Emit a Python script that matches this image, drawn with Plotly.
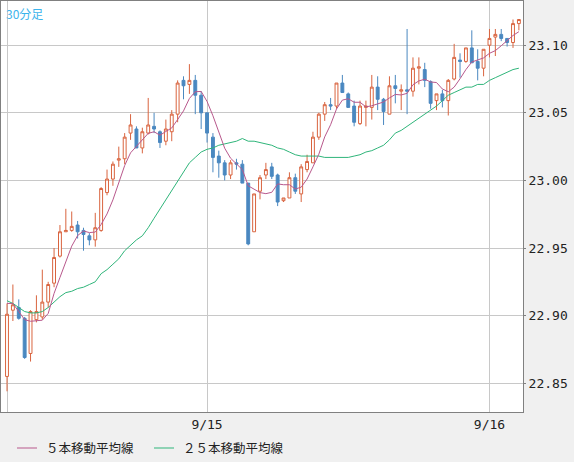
import plotly.graph_objects as go

idx = list(range(88))
opens = [22.855,22.904,22.906,22.898,22.872,22.897,22.899,22.910,22.924,22.944,
 22.962,22.963,22.967,22.963,22.959,22.956,22.963,22.991,23.001,23.015,
 23.016,23.035,23.038,23.024,23.035,23.040,23.036,23.029,23.036,23.049,
 23.074,23.071,23.074,23.063,23.050,23.032,23.018,23.013,23.004,23.013,
 23.012,22.998,22.962,22.992,23.004,23.010,23.004,22.985,22.987,23.002,
 22.990,23.008,23.013,23.032,23.049,23.056,23.055,23.072,23.064,23.055,
 23.042,23.054,23.054,23.069,23.060,23.049,23.070,23.066,23.067,23.066,
 23.083,23.082,23.073,23.059,23.064,23.059,23.075,23.089,23.088,23.098,
 23.088,23.083,23.100,23.106,23.108,23.105,23.102,23.116]
closes = [22.901,22.908,22.898,22.869,22.903,22.903,22.910,22.923,22.943,22.962,
 22.963,22.966,22.962,22.960,22.956,22.965,22.994,23.001,23.012,23.016,
 23.032,23.041,23.024,23.036,23.041,23.038,23.028,23.038,23.049,23.072,
 23.070,23.074,23.063,23.050,23.035,23.017,23.013,23.004,23.013,23.012,
 22.998,22.953,22.990,23.002,23.008,23.003,22.984,22.987,23.002,22.992,
 23.010,23.014,23.032,23.049,23.056,23.055,23.072,23.065,23.054,23.043,
 23.055,23.055,23.069,23.060,23.051,23.070,23.068,23.067,23.066,23.083,
 23.084,23.074,23.057,23.064,23.059,23.074,23.091,23.088,23.098,23.087,
 23.083,23.097,23.105,23.108,23.105,23.102,23.116,23.119]
highs = [22.909,22.923,22.912,22.899,22.904,22.915,22.934,22.925,22.950,22.967,
 22.979,22.977,22.970,22.965,22.961,22.976,22.995,23.008,23.014,23.025,
 23.035,23.049,23.040,23.039,23.061,23.050,23.037,23.045,23.052,23.074,
 23.077,23.086,23.078,23.066,23.050,23.035,23.022,23.015,23.015,23.016,
 23.015,22.998,22.990,23.004,23.013,23.013,23.005,22.987,23.006,23.005,
 23.012,23.019,23.036,23.050,23.058,23.061,23.072,23.078,23.065,23.059,
 23.059,23.059,23.078,23.077,23.061,23.077,23.078,23.071,23.112,23.091,
 23.091,23.087,23.074,23.064,23.067,23.075,23.101,23.094,23.098,23.111,
 23.097,23.097,23.112,23.112,23.112,23.105,23.119,23.119]
lows = [22.844,22.896,22.897,22.868,22.866,22.895,22.897,22.906,22.921,22.943,
 22.962,22.962,22.957,22.948,22.952,22.951,22.962,22.989,22.996,23.010,
 23.012,23.030,23.024,23.020,23.034,23.035,23.024,23.026,23.029,23.043,
 23.060,23.064,23.049,23.038,23.028,23.006,23.002,23.000,23.001,23.008,
 22.998,22.952,22.962,22.986,23.001,23.001,22.981,22.984,22.987,22.990,
 22.984,23.006,23.013,23.030,23.044,23.052,23.053,23.065,23.054,23.040,
 23.041,23.040,23.045,23.052,23.041,23.049,23.057,23.052,23.049,23.062,
 23.071,23.069,23.053,23.052,23.054,23.048,23.074,23.076,23.087,23.087,
 23.074,23.077,23.091,23.092,23.103,23.099,23.098,23.111]
ma5_head = [22.909, 22.909, 22.903, 22.897]
ma25 = [22.911,22.909,22.906,22.903,22.902,22.902,22.903,22.906,22.910,22.914,
 22.917,22.918,22.920,22.921,22.923,22.925,22.931,22.934,22.938,22.942,
 22.948,22.952,22.956,22.959,22.965,22.972,22.979,22.986,22.993,23.000,
 23.007,23.013,23.017,23.021,23.023,23.024,23.026,23.027,23.028,23.029,
 23.031,23.029,23.029,23.028,23.027,23.026,23.024,23.023,23.021,23.019,
 23.018,23.018,23.018,23.018,23.017,23.017,23.017,23.017,23.017,23.018,
 23.019,23.021,23.022,23.024,23.026,23.030,23.035,23.037,23.040,23.043,
 23.046,23.049,23.052,23.055,23.059,23.063,23.065,23.067,23.069,23.069,
 23.071,23.071,23.074,23.076,23.078,23.080,23.082,23.083]
date_ticks = [0, 34, 82]
date_labels = ["", "9/15", "9/16"]
price_ticks = [22.85, 22.90, 22.95, 23.00, 23.05, 23.10]

ma5 = ma5_head + [sum(closes[i-4:i+1]) / 5 for i in range(4, len(closes))]

UP = "#d9643f"; DOWN = "#4a88c0"; C5 = "#b8588c"; C25 = "#2fb57a"
fig = go.Figure()
fig.add_trace(go.Candlestick(x=idx, open=opens, high=highs, low=lows, close=closes,
    increasing=dict(line=dict(color=UP, width=1), fillcolor="white"),
    decreasing=dict(line=dict(color=DOWN, width=1), fillcolor=DOWN),
    whiskerwidth=0, showlegend=False, hoverinfo="skip"))
fig.add_trace(go.Scatter(x=idx, y=ma25, mode="lines", line=dict(color=C25, width=1), showlegend=False))
fig.add_trace(go.Scatter(x=idx, y=ma5, mode="lines", line=dict(color=C5, width=1), showlegend=False))

font = "DejaVu Sans Mono, Noto Sans CJK JP"
LY = -36/411
fig.update_layout(
    width=574, height=462, margin=dict(l=1, r=51, t=1, b=50),
    paper_bgcolor="#f0f0f0", plot_bgcolor="white",
    font=dict(family=font, size=13, color="#222"),
    xaxis=dict(range=[-1.02, 87.7], tickvals=date_ticks, ticktext=date_labels,
               showgrid=True, gridcolor="#c8c8c8", gridwidth=1, zeroline=False,
               rangeslider=dict(visible=False), ticks="", showline=True, linecolor="#808080",
               mirror=True, tickfont=dict(size=13)),
    yaxis=dict(range=[22.8287, 23.1327], side="right", tickvals=price_ticks, tickformat=".2f",
               showgrid=True, gridcolor="#c8c8c8", zeroline=False, ticks="outside", ticklen=2,
               tickcolor="#808080", showline=True, linecolor="#808080", mirror=True,
               tickfont=dict(size=13)),
    shapes=[
        dict(type="line", xref="paper", yref="paper", x0=16/522, x1=36/522, y0=LY, y1=LY,
             line=dict(color=C5, width=1)),
        dict(type="line", xref="paper", yref="paper", x0=153/522, x1=173/522, y0=LY, y1=LY,
             line=dict(color=C25, width=1)),
    ],
    annotations=[
        dict(text="30分足", xref="paper", yref="paper", x=3/522, y=1-2/411, xanchor="left", yanchor="top",
             showarrow=False, font=dict(color="#3cb4ec", size=12, family="Noto Sans CJK JP")),
        dict(text="５本移動平均線", xref="paper", yref="paper", x=43/522, y=LY, xanchor="left",
             yanchor="middle", showarrow=False, font=dict(size=12.5, family="Noto Sans CJK JP", color="#222")),
        dict(text="２５本移動平均線", xref="paper", yref="paper", x=180/522, y=LY, xanchor="left",
             yanchor="middle", showarrow=False, font=dict(size=12.5, family="Noto Sans CJK JP", color="#222")),
    ],
)
fig.write_html("out.html", config={"displayModeBar": False},
               post_script="document.body.style.margin='0';document.body.style.overflow='hidden';")
